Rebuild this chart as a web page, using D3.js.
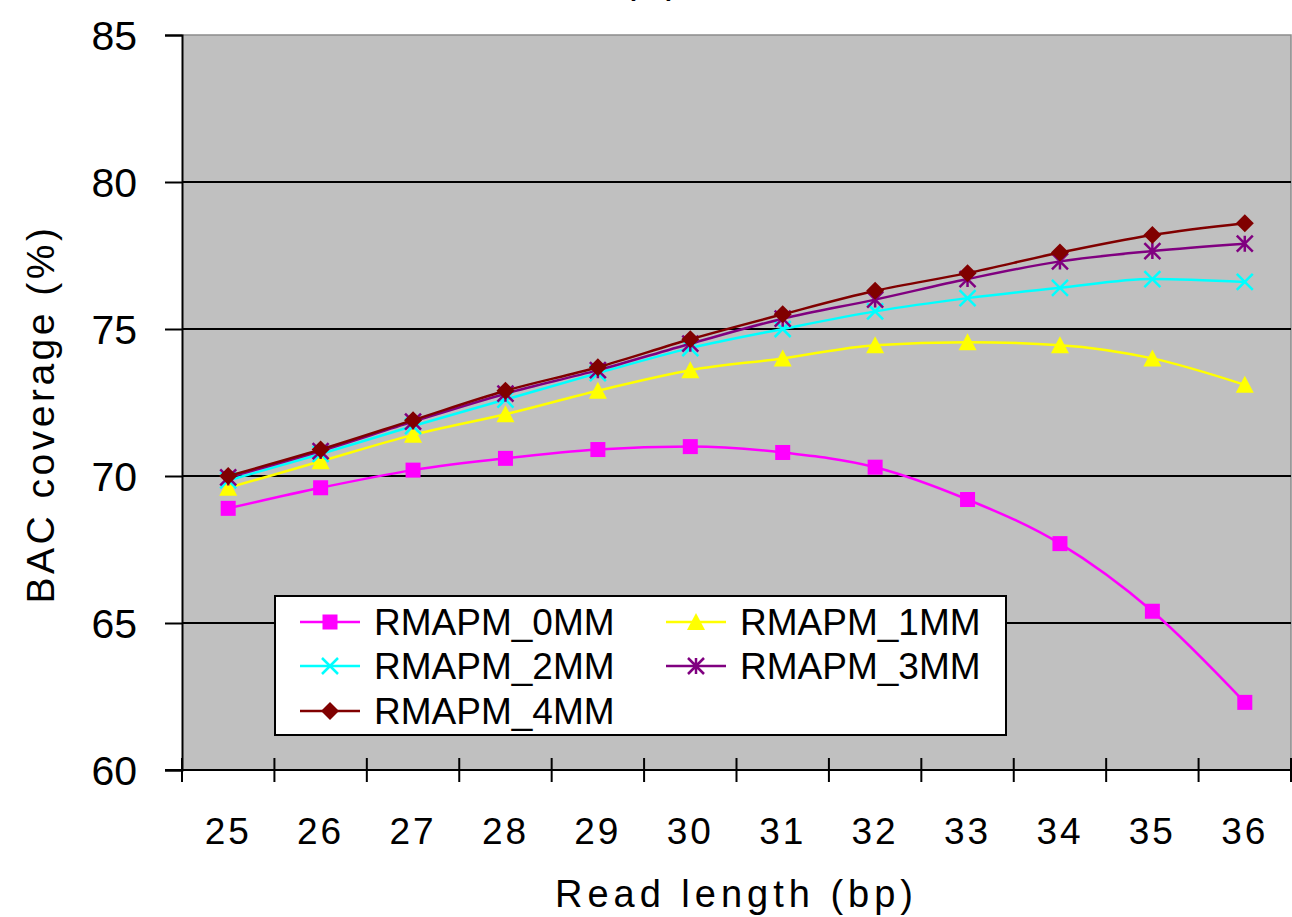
<!DOCTYPE html>
<html>
<head>
<meta charset="utf-8">
<script src="https://cdn.jsdelivr.net/npm/d3@7"></script>
<style>
  html, body { margin: 0; padding: 0; background: #fff; }
  svg { display: block; font-family: "Liberation Sans", Arial, sans-serif; }
</style>
</head>
<body>
<svg id="chart" width="1292" height="917"></svg>
<script>
// ---- data ----
const readLengths = ["25","26","27","28","29","30","31","32","33","34","35","36"];
const seriesNames = ["RMAPM_0MM","RMAPM_1MM","RMAPM_2MM","RMAPM_3MM","RMAPM_4MM"];
const rmapm0 = [68.9, 69.6, 70.2, 70.6, 70.9, 71.0, 70.8, 70.3, 69.2, 67.7, 65.4, 62.3];
const rmapm1 = [69.6, 70.5, 71.4, 72.1, 72.9, 73.6, 74.0, 74.45, 74.55, 74.45, 74.0, 73.1];
const rmapm2 = [69.85, 70.75, 71.7, 72.6, 73.5, 74.35, 75.0, 75.6, 76.05, 76.4, 76.7, 76.6];
const rmapm3 = [69.95, 70.85, 71.85, 72.8, 73.6, 74.5, 75.35, 76.0, 76.7, 77.3, 77.65, 77.9];
const rmapm4 = [70.0, 70.9, 71.9, 72.9, 73.7, 74.65, 75.5, 76.3, 76.9, 77.6, 78.2, 78.6];
const yTicks = [60, 65, 70, 75, 80, 85];
const gridValues = [65, 70, 75, 80];

const seriesValues = [rmapm0, rmapm1, rmapm2, rmapm3, rmapm4];
const colors = ["#FF00FF", "#FFFF00", "#00FFFF", "#800080", "#800000"];
const markers = ["square", "triangle", "x", "star", "diamond"];

// ---- layout ----
const svg = d3.select("#chart");
const pLeft = 182, pRight = 1291, pTop = 35, pBottom = 770;

const x = d3.scaleBand().domain(readLengths).range([pLeft, pRight]).padding(0);
const y = d3.scaleLinear().domain([60, 85]).range([pBottom, pTop]);

// partially cropped title (only its lowest part is visible in the reference)
svg.append("text").attr("x", 653).attr("y", -7).attr("text-anchor", "middle")
  .attr("font-size", 40).attr("letter-spacing", 4).text("(b)");

// plot area
svg.append("rect").attr("x", pLeft).attr("y", pTop)
  .attr("width", pRight - pLeft).attr("height", pBottom - pTop)
  .attr("fill", "#C0C0C0");
svg.append("path")
  .attr("d", `M${pLeft},${pTop}H${pRight}V${pBottom}`)
  .attr("fill", "none").attr("stroke", "#8c8c8c").attr("stroke-width", 1.5);

// gridlines
svg.append("g").selectAll("line").data(gridValues).join("line")
  .attr("x1", pLeft).attr("x2", pRight)
  .attr("y1", d => y(d)).attr("y2", d => y(d))
  .attr("stroke", "#000").attr("stroke-width", 2);

// y axis
const yAxis = d3.axisLeft(y).tickValues(yTicks).tickSize(17).tickPadding(28).tickFormat(d3.format("d"));
const gy = svg.append("g").attr("transform", `translate(${pLeft},0)`).call(yAxis);
gy.select(".domain").attr("stroke", "#000").attr("stroke-width", 2);
gy.selectAll(".tick line").attr("stroke", "#000").attr("stroke-width", 2);
gy.selectAll(".tick text").attr("font-size", 41).attr("fill", "#000")
  .attr("font-family", "'Liberation Sans', Arial, sans-serif").attr("dy", "0.36em");

// x axis
const xAxis = d3.axisBottom(x).tickSize(0).tickPadding(48);
const gx = svg.append("g").attr("transform", `translate(0,${pBottom})`).call(xAxis);
gx.select(".domain").remove();
gx.selectAll(".tick text").attr("font-size", 37).attr("fill", "#000").attr("letter-spacing", 3)
  .attr("font-family", "'Liberation Sans', Arial, sans-serif");
svg.append("line").attr("x1", pLeft - 17).attr("x2", pRight).attr("y1", pBottom).attr("y2", pBottom)
  .attr("stroke", "#000").attr("stroke-width", 2);
const boundaries = readLengths.map(d => x(d)).concat([x(readLengths[readLengths.length - 1]) + x.bandwidth()]);
svg.append("g").selectAll("line").data(boundaries).join("line")
  .attr("x1", d => d).attr("x2", d => d)
  .attr("y1", pBottom - 12).attr("y2", pBottom + 12)
  .attr("stroke", "#000").attr("stroke-width", 2);

// axis titles
svg.append("text").attr("x", (pLeft + pRight) / 2).attr("y", 907).attr("text-anchor", "middle")
  .attr("font-size", 38).attr("letter-spacing", 5).attr("fill", "#000").text("Read length (bp)");
svg.append("text").attr("transform", `translate(54,${414}) rotate(-90)`).attr("text-anchor", "middle")
  .attr("font-size", 39).attr("letter-spacing", 3.5).attr("fill", "#000").text("BAC coverage (%)");

// marker drawing
function drawMarker(g, type, color, cx, cy) {
  const s = 8;
  if (type === "square") {
    g.append("rect").attr("x", cx - 7.5).attr("y", cy - 7.5).attr("width", 15).attr("height", 15).attr("fill", color);
  } else if (type === "triangle") {
    g.append("path").attr("d", `M${cx},${cy - 9}L${cx + 9},${cy + 8}L${cx - 9},${cy + 8}Z`).attr("fill", color);
  } else if (type === "diamond") {
    g.append("path").attr("d", `M${cx},${cy - 9}L${cx + 9},${cy}L${cx},${cy + 9}L${cx - 9},${cy}Z`).attr("fill", color);
  } else if (type === "x") {
    g.append("path").attr("d", `M${cx - s},${cy - s}L${cx + s},${cy + s}M${cx - s},${cy + s}L${cx + s},${cy - s}`)
      .attr("stroke", color).attr("stroke-width", 2.5).attr("fill", "none");
  } else if (type === "star") {
    g.append("path").attr("d", `M${cx - s},${cy - s}L${cx + s},${cy + s}M${cx - s},${cy + s}L${cx + s},${cy - s}M${cx},${cy - s}V${cy + s}`)
      .attr("stroke", color).attr("stroke-width", 2.5).attr("fill", "none");
  }
}

// series lines
const line = d3.line()
  .x((d, i) => x(readLengths[i]) + x.bandwidth() / 2)
  .y(d => y(d))
  .curve(d3.curveMonotoneX);

seriesValues.forEach((vals, si) => {
  const g = svg.append("g");
  g.append("path").datum(vals).attr("d", line)
    .attr("fill", "none").attr("stroke", colors[si]).attr("stroke-width", 2.5);
  vals.forEach((v, i) => {
    drawMarker(g, markers[si], colors[si], x(readLengths[i]) + x.bandwidth() / 2, y(v));
  });
});

// legend
const lg = svg.append("g");
lg.append("rect").attr("x", 275).attr("y", 596).attr("width", 731).attr("height", 139)
  .attr("fill", "#fff").attr("stroke", "#000").attr("stroke-width", 2);
const colX = [300, 666];
const rowY = [622, 666, 711];
seriesNames.forEach((name, i) => {
  const cx = colX[i % 2], cy = rowY[Math.floor(i / 2)];
  lg.append("line").attr("x1", cx).attr("x2", cx + 60).attr("y1", cy).attr("y2", cy)
    .attr("stroke", colors[i]).attr("stroke-width", 2.5);
  drawMarker(lg, markers[i], colors[i], cx + 30, cy);
  lg.append("text").attr("x", cx + 74).attr("y", cy + 13).attr("font-size", 37)
    .attr("fill", "#000").text(name);
});
</script>
</body>
</html>
